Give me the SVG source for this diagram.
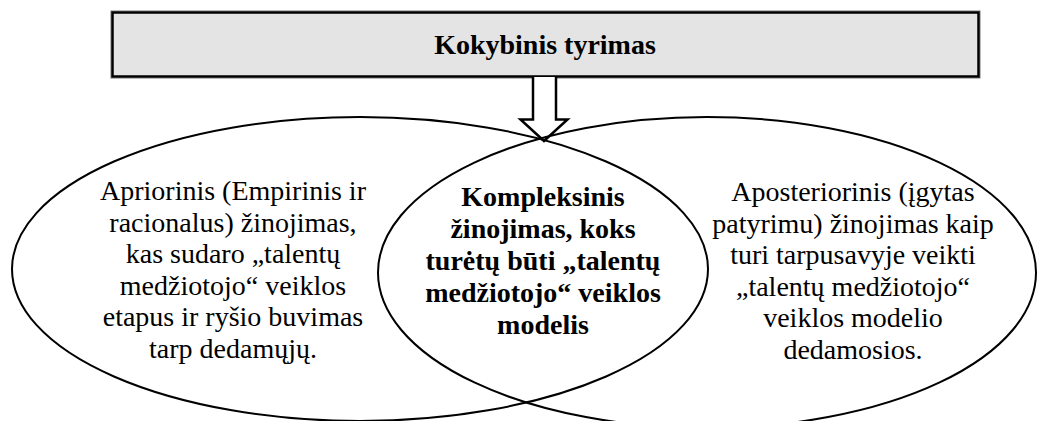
<svg xmlns="http://www.w3.org/2000/svg" width="1039" height="421" viewBox="0 0 1039 421">
<style>
.t{font-family:"Liberation Serif","Times New Roman",serif;font-size:28px;fill:#000;text-anchor:middle}
.b{font-weight:bold}
.ell{fill:none;stroke:#000;stroke-width:2}
</style>
<rect width="1039" height="421" fill="#fff"/>
<g id="top">
<rect x="111" y="11" width="869" height="67" fill="none" stroke="#777" stroke-width="1"/>
<rect x="112.5" y="12.5" width="866" height="64" fill="#e4e4e4" stroke="#000" stroke-width="2.5"/>
<text class="t b" x="545" y="54">Kokybinis tyrimas</text>
</g>
<g id="connectors">
<path d="M533 77 V119.5 H520.5 L544 141 L567.5 119.5 H556 V77" fill="#fff" stroke="#000" stroke-width="2.5" stroke-linejoin="miter"/>
</g>
<g id="left">
<ellipse class="ell" cx="360" cy="269" rx="348" ry="152"/>
<text class="t" x="233" y="200">Apriorinis (Empirinis ir</text>
<text class="t" x="233" y="231.5">racionalus) žinojimas,</text>
<text class="t" x="233" y="263">kas sudaro „talentų</text>
<text class="t" x="233" y="294.5">medžiotojo“ veiklos</text>
<text class="t" x="233" y="326">etapus ir ryšio buvimas</text>
<text class="t" x="233" y="357.5">tarp dedamųjų.</text>
</g>
<g id="right">
<ellipse class="ell" cx="707" cy="272.5" rx="329" ry="155.5"/>
<text class="t" x="853" y="201">Aposteriorinis (įgytas</text>
<text class="t" x="853" y="232.5">patyrimu) žinojimas kaip</text>
<text class="t" x="853" y="264">turi tarpusavyje veikti</text>
<text class="t" x="853" y="295.5">„talentų medžiotojo“</text>
<text class="t" x="853" y="327">veiklos modelio</text>
<text class="t" x="853" y="358.5">dedamosios.</text>
</g>
<g id="center">
<text class="t b" x="543" y="206">Kompleksinis</text>
<text class="t b" x="543" y="238">žinojimas, koks</text>
<text class="t b" x="543" y="270">turėtų būti „talentų</text>
<text class="t b" x="543" y="302">medžiotojo“ veiklos</text>
<text class="t b" x="543" y="334">modelis</text>
</g>
</svg>
